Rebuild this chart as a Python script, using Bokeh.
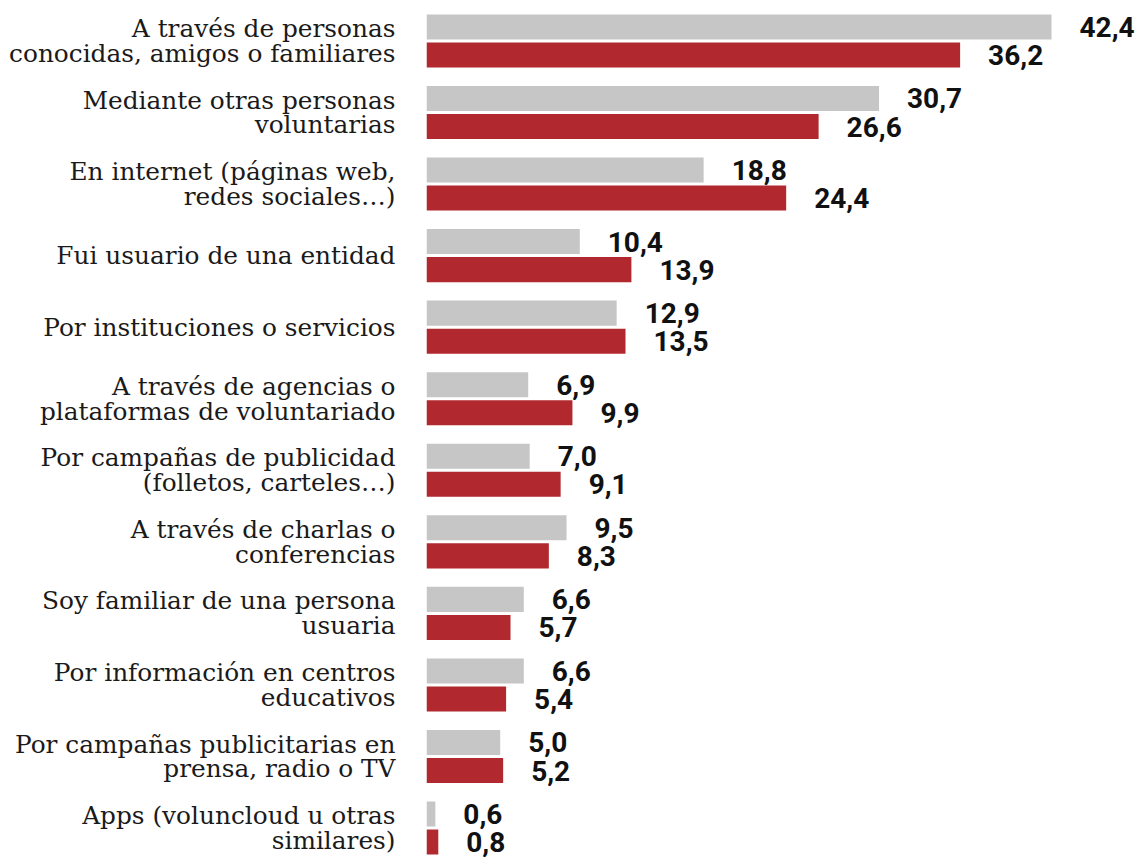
from bokeh.plotting import figure
from bokeh.models import FactorRange, ColumnDataSource
from bokeh.transform import dodge
from bokeh.core.properties import value
from bokeh.embed import file_html
from bokeh.resources import INLINE

categories = [
    "A través de personas\nconocidas, amigos o familiares",
    "Mediante otras personas\nvoluntarias",
    "En internet (páginas web,\nredes sociales…)",
    "Fui usuario de una entidad",
    "Por instituciones o servicios",
    "A través de agencias o\nplataformas de voluntariado",
    "Por campañas de publicidad\n(folletos, carteles…)",
    "A través de charlas o\nconferencias",
    "Soy familiar de una persona\nusuaria",
    "Por información en centros\neducativos",
    "Por campañas publicitarias en\nprensa, radio o TV",
    "Apps (voluncloud u otras\nsimilares)",
]
serie_gris = [42.4, 30.7, 18.8, 10.4, 12.9, 6.9, 7.0, 9.5, 6.6, 6.6, 5.0, 0.6]
serie_roja = [36.2, 26.6, 24.4, 13.9, 13.5, 9.9, 9.1, 8.3, 5.7, 5.4, 5.2, 0.8]

def fmt(v):
    return f"{v:.1f}".replace(".", ",")

src = ColumnDataSource(dict(
    cat=categories,
    gris=serie_gris,
    roja=serie_roja,
    gris_lbl=[fmt(v) for v in serie_gris],
    roja_lbl=[fmt(v) for v in serie_roja],
))

y_range = FactorRange(factors=list(reversed(categories)),
                      range_padding=-0.0744, range_padding_units="absolute")

p = figure(width=1143, height=858, y_range=y_range, x_range=(0, 48.64),
           output_backend="svg", toolbar_location=None,
           min_border_left=426, min_border_right=0,
           min_border_top=10, min_border_bottom=0)

GREY = "#C6C6C6"
RED = "#B1292F"
off = 0.196
h = 0.35

p.hbar(y=dodge("cat", off, range=p.y_range), right="gris", left=0, height=h,
       source=src, color=GREY, line_color=None)
p.hbar(y=dodge("cat", -off, range=p.y_range), right="roja", left=0, height=h,
       source=src, color=RED, line_color=None)

for col, lbl, d in (("gris", "gris_lbl", off), ("roja", "roja_lbl", -off)):
    p.text(x=col, y=dodge("cat", d, range=p.y_range), text=lbl, source=src,
           x_offset=28, text_baseline="middle", text_align="left",
           text_font=value("Roboto"), text_font_style="bold",
           text_font_size="28px", text_color="#111111")

p.xaxis.visible = False
p.yaxis.axis_line_color = None
p.yaxis.major_tick_line_color = None
p.yaxis.minor_tick_line_color = None
p.yaxis.major_label_standoff = 25
p.yaxis.major_label_text_font = "DejaVu Serif"
p.yaxis.major_label_text_font_size = "24.8px"
p.yaxis.major_label_text_color = "#1a1a1a"
p.yaxis.major_label_text_line_height = 0.86

p.grid.visible = False
p.outline_line_color = None
p.background_fill_color = "white"
p.border_fill_color = "white"

open("out.html", "w").write(file_html(p, INLINE))
